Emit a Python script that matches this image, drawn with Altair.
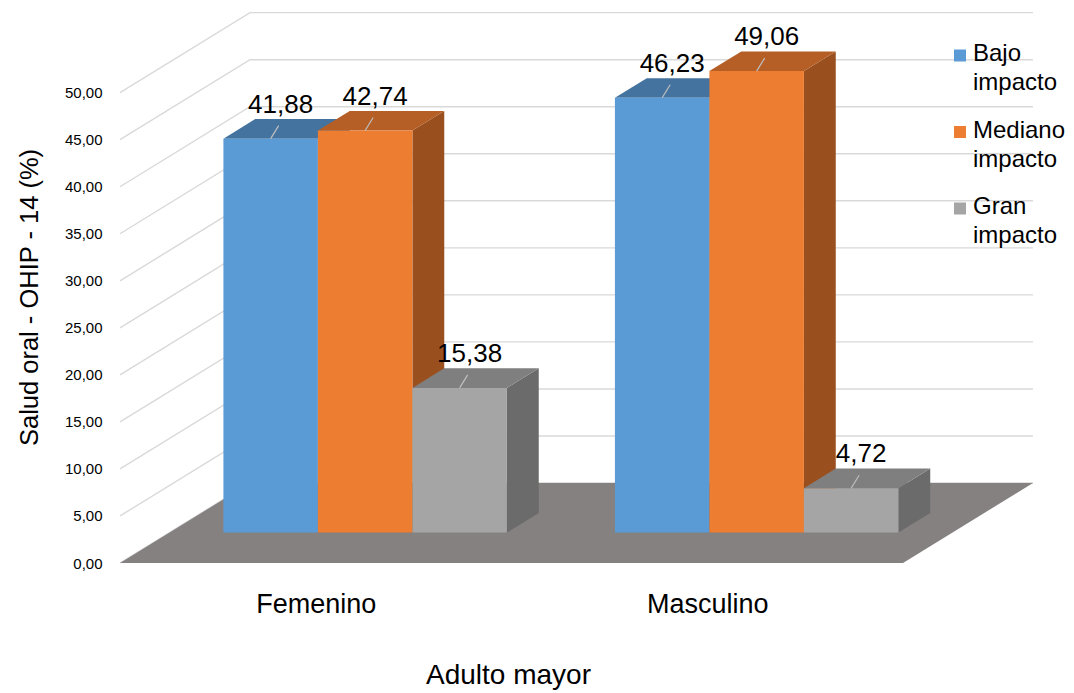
import json
import altair as alt
import pandas as pd

# ---------------- data ----------------
categories = ["Femenino", "Masculino"]
series = ["Bajo impacto", "Mediano impacto", "Gran impacto"]
bajo = [41.88, 46.23]
mediano = [42.74, 49.06]
gran = [15.38, 4.72]
y_ticks = [0, 5, 10, 15, 20, 25, 30, 35, 40, 45, 50]

front_colors = ["#5B9BD5", "#ED7D31", "#A5A5A5"]
top_colors = ["#44739F", "#B55F26", "#7F7F7F"]
side_colors = ["#3E6A92", "#9A4F1F", "#6B6B6B"]
floor_color = "#858180"
grid_color = "#D9D9D9"

FONT = "Liberation Sans, Arial, sans-serif"

# ---------------- geometry (oblique 3D projection) ----------------
W, H = 913, 555
X_MAX = 2.332
Y_MAX = 59.0
PX_X = W / X_MAX
PX_Y = H / Y_MAX
DEPTH_X = 130 / PX_X
DEPTH_Y = 80 / PX_Y
T_FRONT, T_BACK = 0.38, 0.625
BAR_W = 94.5 / PX_X
GROUP_OFF = (1 - len(series) * BAR_W) / 2

series_values = [bajo, mediano, gran]

fronts, tops, sides, leaders, labels = [], [], [], [], []
for ci, cat in enumerate(categories):
    for si, s in enumerate(series):
        v = series_values[si][ci]
        bid = f"{cat}-{s}"
        xl = ci + GROUP_OFF + si * BAR_W
        xr = xl + BAR_W
        fx, fy = T_FRONT * DEPTH_X, T_FRONT * DEPTH_Y
        bx, by = T_BACK * DEPTH_X, T_BACK * DEPTH_Y
        fronts.append({"series": s, "x": xl + fx, "x2": xr + fx, "y": fy, "y2": v + fy})
        tops.append({"id": bid, "fill": top_colors[si], "y": v + fy, "x": xl + fx, "x2": xr + fx})
        tops.append({"id": bid, "fill": top_colors[si], "y": v + by, "x": xl + bx, "x2": xr + bx})
        sides.append({"id": bid, "fill": side_colors[si], "x": xr + fx, "y": v + fy, "y2": fy})
        sides.append({"id": bid, "fill": side_colors[si], "x": xr + bx, "y": v + by, "y2": by})
        cx = (xl + xr) / 2 + fx
        leaders.append({"x": cx, "y": v + fy, "x2": cx + 8 / PX_X, "y2": v + fy + 13 / PX_Y})
        labels.append({"x": cx + 10 / PX_X, "y": v + fy + 26 / PX_Y,
                       "text": f"{v:.2f}".replace(".", ",")})

grid_rows = []
for v in y_ticks:
    grid_rows.append({"v": v, "k": 0, "x": 0, "y": v})
    grid_rows.append({"v": v, "k": 1, "x": DEPTH_X, "y": v + DEPTH_Y})
    grid_rows.append({"v": v, "k": 2, "x": len(categories) + DEPTH_X, "y": v + DEPTH_Y})

floor_rows = [
    {"y": 0, "x": 0, "x2": len(categories)},
    {"y": DEPTH_Y, "x": DEPTH_X, "x2": len(categories) + DEPTH_X},
]

xs = alt.Scale(domain=[0, X_MAX], nice=False, zero=False)
ys = alt.Scale(domain=[0, Y_MAX], nice=False, zero=False)

x_axis = alt.Axis(
    values=[i + 0.5 for i in range(len(categories))],
    labelExpr=f"{json.dumps(categories)}[floor(datum.value)]",
    grid=False, domain=False, ticks=False, tickSize=0,
    labelFont=FONT, labelFontSize=27, labelColor="#000000",
    labelBaseline="alphabetic", labelPadding=49,
    title="Adulto mayor", titleFont=FONT, titleFontSize=28, titleFontWeight="normal",
    titleColor="#000000", titleBaseline="alphabetic", titleY=120,
    titleX=388, titleAlign="center", titleAnchor="start",
)
y_axis = alt.Axis(
    values=y_ticks,
    labelExpr="replace(format(datum.value, '.2f'), '.', ',')",
    grid=False, domain=False, ticks=False, tickSize=0,
    labelFont=FONT, labelFontSize=15, labelColor="#000000", labelPadding=18,
    title="Salud oral - OHIP - 14 (%)", titleFont=FONT, titleFontSize=25.5,
    titleFontWeight="normal", titleColor="#000000",
    titleX=-91, titleY=289, titleBaseline="middle", titleAngle=270,
)


def X(field):
    return alt.X(field, scale=xs, axis=x_axis)


def Y(field):
    return alt.Y(field, scale=ys, axis=y_axis)


grid = alt.Chart(pd.DataFrame(grid_rows)).mark_line(color=grid_color, strokeWidth=1.4).encode(
    x=X("x:Q"), y=Y("y:Q"), detail="v:N", order="k:Q",
)

floor = alt.Chart(pd.DataFrame(floor_rows)).mark_area(orient="horizontal", color=floor_color).encode(
    x=X("x:Q"), x2="x2:Q", y=Y("y:Q"),
)

side_layer = alt.Chart(pd.DataFrame(sides)).mark_area().encode(
    x=X("x:Q"), y=Y("y:Q"), y2="y2:Q",
    fill=alt.Fill("fill:N", scale=None), detail="id:N",
)

top_layer = alt.Chart(pd.DataFrame(tops)).mark_area(orient="horizontal").encode(
    x=X("x:Q"), x2="x2:Q", y=Y("y:Q"),
    fill=alt.Fill("fill:N", scale=None), detail="id:N",
)

front_layer = alt.Chart(pd.DataFrame(fronts)).mark_rect().encode(
    x=X("x:Q"), x2="x2:Q", y=Y("y:Q"), y2="y2:Q",
    color=alt.Color(
        "series:N",
        scale=alt.Scale(domain=series, range=front_colors),
        sort=series,
        legend=alt.Legend(
            title=None, orient="none", legendX=828, legendY=34, padding=0,
            symbolType="M-1,-0.75L1,-0.75L1,1.25L-1,1.25Z", symbolSize=144,
            symbolStrokeWidth=0, symbolOpacity=1,
            labelExpr="split(datum.label, ' ')",
            labelFont=FONT, labelFontSize=24, labelColor="#000000",
            labelOffset=1, labelLimit=0, rowPadding=23.5,
        ),
    ),
)

leader_layer = alt.Chart(pd.DataFrame(leaders)).mark_rule(color="#BFBFBF", strokeWidth=1.2).encode(
    x=X("x:Q"), x2="x2:Q", y=Y("y:Q"), y2="y2:Q",
)

label_layer = alt.Chart(pd.DataFrame(labels)).mark_text(
    font=FONT, fontSize=26, color="#000000", align="center", baseline="alphabetic"
).encode(
    x=X("x:Q"), y=Y("y:Q"), text="text:N",
)

chart = alt.layer(
    grid, floor, side_layer, top_layer, front_layer, leader_layer, label_layer
).properties(
    width=W, height=H,
    autosize=alt.AutoSizeParams(type="none"),
    padding={"left": 120, "top": 8, "right": 41, "bottom": 130},
).configure(
    style={"guide-label": {"lineHeight": 29}},
    view=alt.ViewConfig(stroke=None),
)

chart.save("out.html", embed_options={"renderer": "svg", "actions": False})
